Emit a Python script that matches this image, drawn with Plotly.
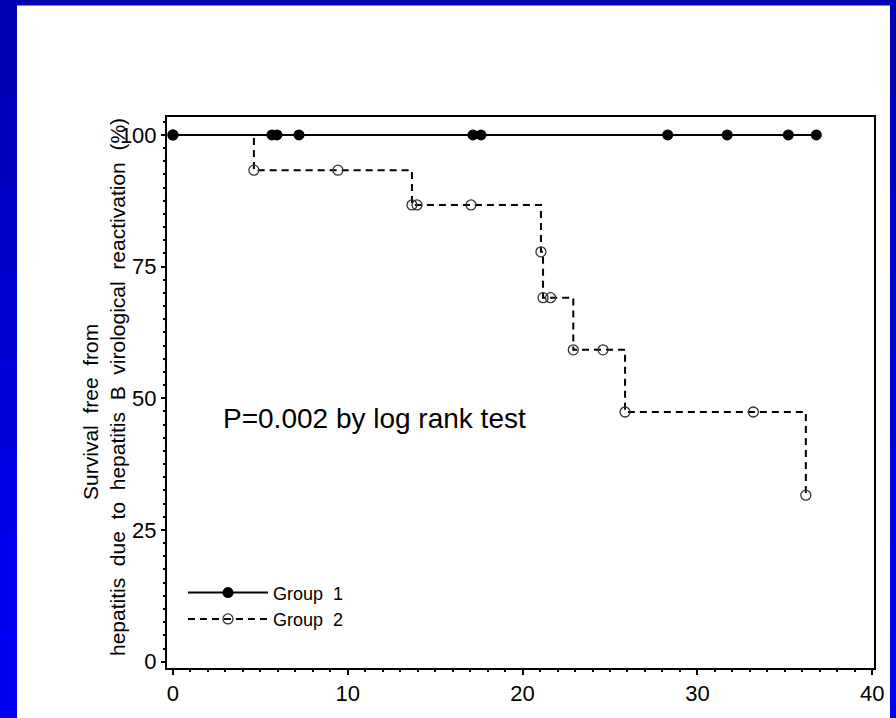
import plotly.graph_objects as go

# ---- data ----
g1_months = [0, 5.66, 5.95, 7.21, 17.16, 17.62, 28.3, 31.7, 35.2, 36.8]
g1_surv = [100, 100, 100, 100, 100, 100, 100, 100, 100, 100]

g2_months = [0, 4.63, 9.44, 13.67, 13.96, 17.05, 21.05, 21.17, 21.6, 22.9, 24.6, 25.86, 33.2, 36.2]
g2_surv = [100, 93.3, 93.3, 86.7, 86.7, 86.7, 77.8, 69.1, 69.1, 59.2, 59.2, 47.4, 47.4, 31.6]

x_ticks = [0, 10, 20, 30, 40]
y_ticks = [0, 25, 50, 75, 100]

FONT = "Liberation Sans, Arial, sans-serif"

fig = go.Figure()

fig.add_trace(go.Scatter(
    x=g2_months, y=g2_surv, mode="lines+markers", name="Group  2",
    line=dict(color="black", width=2, dash="7px,5px", shape="hv"),
    marker=dict(symbol="circle-open", size=10, color="#333333", line=dict(width=1.3)),
))
fig.add_trace(go.Scatter(
    x=g1_months, y=g1_surv, mode="lines+markers", name="Group  1",
    line=dict(color="black", width=2),
    marker=dict(symbol="circle", size=11, color="black"),
))

# blue slide frame
L, R, T, B = 167, 22, 117, 48
W, H = 896 - L - R, 718 - T - B
def px(x):
    return (x - L) / W
def py(y):
    return (718 - B - y) / H

shapes = []
blues = ["#0000B4", "#0000BC", "#0000C6", "#0000D0", "#0000DA", "#0000E4", "#0000EC", "#0000F4"]
n = len(blues)
for i, c in enumerate(blues):
    y0 = 5 + i * (713 / n)
    y1 = 5 + (i + 1) * (713 / n)
    for xa, xb in [(-5, 17), (890, 901)]:
        shapes.append(dict(type="rect", xref="paper", yref="paper", x0=px(xa), x1=px(xb),
                           y0=py(y1 + 1), y1=py(y0), fillcolor=c, line=dict(width=0), layer="below"))
shapes.append(dict(type="rect", xref="paper", yref="paper", x0=px(17), x1=px(890), y0=py(723), y1=py(5),
                   fillcolor="white", line=dict(width=0), layer="below"))

fig.update_layout(
    width=896, height=718,
    margin=dict(l=L, r=R, t=T, b=B),
    paper_bgcolor="#0000B4",
    plot_bgcolor="white",
    font=dict(family=FONT, color="black"),
    shapes=shapes,
    showlegend=True,
    legend=dict(x=px(183), y=py(576), xanchor="left", yanchor="top", bgcolor="rgba(0,0,0,0)",
                font=dict(size=18, family=FONT), traceorder="reversed", tracegroupgap=0,
                itemwidth=80),
    annotations=[
        dict(text="P=0.002 by log rank test", x=px(221), y=py(420), xref="paper", yref="paper",
             xanchor="left", yanchor="middle", showarrow=False, font=dict(size=28, family=FONT)),
        dict(text="Survival  free  from",
             textangle=-90, xref="paper", yref="paper", x=px(91), y=py(413), xanchor="center",
             yanchor="middle", showarrow=False, font=dict(size=21, family=FONT)),
        dict(text="hepatitis  due  to  hepatitis  B  virological  reactivation  (%)",
             textangle=-90, xref="paper", yref="paper", x=px(117), y=py(388), xanchor="center",
             yanchor="middle", showarrow=False, font=dict(size=21, family=FONT)),
    ],
)

fig.update_xaxes(
    range=[-0.34, 40.1], tickvals=x_ticks, ticktext=[str(v) for v in x_ticks],
    showline=True, linecolor="black", linewidth=2, mirror=True,
    ticks="outside", ticklen=5, tickcolor="black", tickwidth=1.5,
    minor=dict(dtick=1, ticks="outside", ticklen=2, tickcolor="black"),
    showgrid=False, zeroline=False, tickfont=dict(size=22, family=FONT),
)
fig.update_yaxes(
    range=[-1.2, 103.4], tickvals=y_ticks, ticktext=[str(v) for v in y_ticks],
    showline=True, linecolor="black", linewidth=2, mirror=True,
    ticks="outside", ticklen=4, tickcolor="black", tickwidth=1.5,
    minor=dict(dtick=2.5, ticks="outside", ticklen=2, tickcolor="black"),
    showgrid=False, zeroline=False, tickfont=dict(size=22, family=FONT),
)

fig.write_html("out.html", config={"displayModeBar": False},
               post_script="document.body.style.margin='0';")
